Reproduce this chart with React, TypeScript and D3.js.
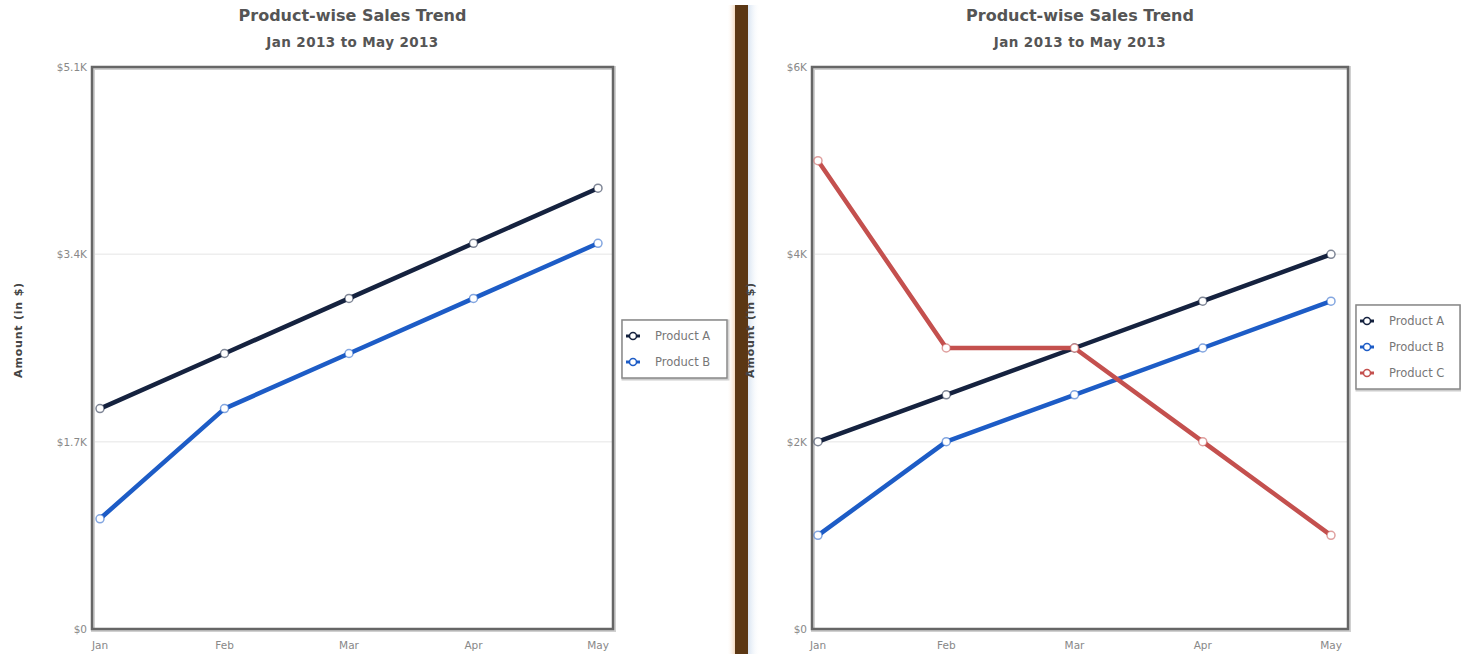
import React from "react";
import * as d3 from "d3";

const months = ["Jan", "Feb", "Mar", "Apr", "May"];
const leftProductA = [2000, 2500, 3000, 3500, 4000];
const leftProductB = [1000, 2000, 2500, 3000, 3500];
const rightProductA = [2000, 2500, 3000, 3500, 4000];
const rightProductB = [1000, 2000, 2500, 3000, 3500];
const rightProductC = [5000, 3000, 3000, 2000, 1000];
const leftTicks = [0, 1700, 3400, 5100];
const leftTickLabels = ["$0", "$1.7K", "$3.4K", "$5.1K"];
const rightTicks = [0, 2000, 4000, 6000];
const rightTickLabels = ["$0", "$2K", "$4K", "$6K"];
const seriesNames = ["Product A", "Product B", "Product C"];
const seriesColors = ["#15223f", "#1d5cc6", "#c4504e"];

const FONT = "'DejaVu Sans', Verdana, sans-serif";

type Series = { name: string; color: string; values: number[] };

function Chart(props: {
  x0: number; x1: number; y0: number; y1: number;
  padL: number; padR: number;
  ticks: number[]; tickLabels: string[];
  series: Series[];
  legendX: number; legendY: number; legendW: number;
}) {
  const { x0, x1, y0, y1, padL, padR, ticks, tickLabels, series, legendX, legendY, legendW } = props;
  const x = d3.scalePoint<string>().domain(months).range([x0 + padL, x1 - padR]);
  const y = d3.scaleLinear().domain([0, ticks[ticks.length - 1]]).range([y1, y0]);
  const line = d3.line<number>().x((_, i) => x(months[i]) as number).y((v) => y(v));
  const cx = (x0 + x1) / 2;
  const legendH = series.length * 26 + 6;
  return (
    <g>
      <text x={cx} y={21} textAnchor="middle" fontFamily={FONT} fontWeight="bold" fontSize={16} fill="#555">Product-wise Sales Trend</text>
      <text x={cx} y={47} textAnchor="middle" fontFamily={FONT} fontWeight="bold" fontSize={13.5} letterSpacing={0.4} fill="#555">Jan 2013 to May 2013</text>
      {ticks.map((t, i) => (
        <g key={i}>
          {i > 0 && i < ticks.length - 1 && (
            <line x1={x0} x2={x1} y1={y(t)} y2={y(t)} stroke="#eeeeee" strokeWidth={1.5} />
          )}
          <text x={x0 - 5} y={y(t) + 4} textAnchor="end" fontFamily={FONT} fontSize={10.5} fill="#888">{tickLabels[i]}</text>
        </g>
      ))}
      <rect x={x0} y={y0} width={x1 - x0} height={y1 - y0} fill="none" stroke="#d0d0d0" strokeWidth={4} transform="translate(1,1)" />
      <rect x={x0} y={y0} width={x1 - x0} height={y1 - y0} fill="none" stroke="#666" strokeWidth={2.5} />
      {months.map((m) => (
        <text key={m} x={x(m)} y={649} textAnchor="middle" fontFamily={FONT} fontSize={10.5} fill="#888">{m}</text>
      ))}
      {series.map((s) => (
        <g key={s.name}>
          <path d={line(s.values) || ""} fill="none" stroke={s.color} strokeWidth={4.5} strokeLinejoin="round" />
          {s.values.map((v, i) => (
            <circle key={i} cx={x(months[i])} cy={y(v)} r={4} fill="#fff" stroke={s.color} strokeOpacity={0.55} strokeWidth={1.5} />
          ))}
        </g>
      ))}
      <rect x={legendX + 1} y={legendY + 1} width={legendW} height={legendH} fill="none" stroke="#ccc" strokeWidth={3} />
      <rect x={legendX} y={legendY} width={legendW} height={legendH} fill="#fff" stroke="#888" strokeWidth={1.5} />
      {series.map((s, i) => {
        const ly = legendY + 16 + i * 26;
        return (
          <g key={s.name}>
            <line x1={legendX + 4} x2={legendX + 18} y1={ly} y2={ly} stroke={s.color} strokeWidth={3} />
            <circle cx={legendX + 11} cy={ly} r={3.5} fill="#fff" stroke={s.color} strokeWidth={1.5} />
            <text x={legendX + 33} y={ly + 4} fontFamily={FONT} fontSize={11.5} fill="#777">{s.name}</text>
          </g>
        );
      })}
    </g>
  );
}

function YLabel(props: { x: number; y: number }) {
  return (
    <text transform={`translate(${props.x},${props.y}) rotate(-90)`} textAnchor="middle" fontFamily={FONT} fontWeight="bold" fontSize={11} letterSpacing={0.8} fill="#444">Amount (in $)</text>
  );
}

export default function App() {
  const leftSeries: Series[] = [
    { name: seriesNames[0], color: seriesColors[0], values: leftProductA },
    { name: seriesNames[1], color: seriesColors[1], values: leftProductB },
  ];
  const rightSeries: Series[] = [
    { name: seriesNames[0], color: seriesColors[0], values: rightProductA },
    { name: seriesNames[1], color: seriesColors[1], values: rightProductB },
    { name: seriesNames[2], color: seriesColors[2], values: rightProductC },
  ];
  return (
    <svg width={1461} height={654} style={{ position: "absolute", left: 0, top: 0, background: "#fff" }}>
      <defs>
        <linearGradient id="glowL" x1="0" x2="1">
          <stop offset="0" stopColor="#fff" stopOpacity={0} />
          <stop offset="1" stopColor="#f3d9bf" />
        </linearGradient>
        <linearGradient id="glowR" x1="0" x2="1">
          <stop offset="0" stopColor="#d8e4f2" />
          <stop offset="1" stopColor="#fff" stopOpacity={0} />
        </linearGradient>
      </defs>
      <Chart x0={92} x1={613} y0={67} y1={629} padL={8} padR={15}
        ticks={leftTicks} tickLabels={leftTickLabels} series={leftSeries}
        legendX={622} legendY={320} legendW={105} />
      <YLabel x={22} y={330} />
      <rect x={727} y={5} width={8} height={649} fill="url(#glowL)" />
      <rect x={748} y={5} width={12} height={649} fill="url(#glowR)" />
      <Chart x0={812} x1={1348} y0={67} y1={629} padL={6} padR={17}
        ticks={rightTicks} tickLabels={rightTickLabels} series={rightSeries}
        legendX={1356} legendY={305} legendW={104} />
      <rect x={735} y={5} width={13} height={649} fill="#5b3714" />
      <YLabel x={754} y={330} />
    </svg>
  );
}
